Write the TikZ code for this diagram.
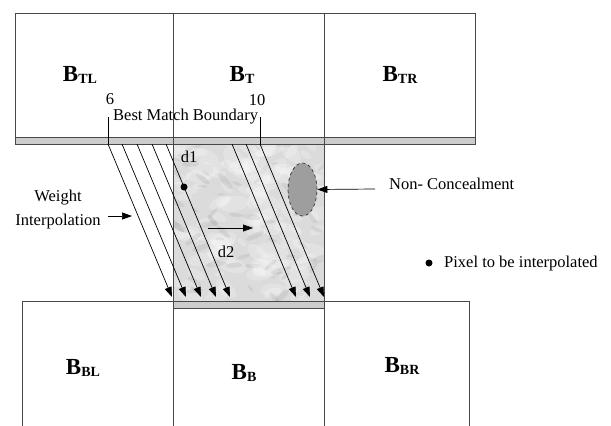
\documentclass[tikz,border=0pt]{standalone}
\usepackage{fontspec}
\setmainfont{Liberation Serif}
\usetikzlibrary{arrows.meta,shapes.geometric}
% subscript of a block name
\newcommand\blksub[1]{\raisebox{-2.5pt}{\fontsize{14}{14}\selectfont #1}}
\begin{document}
\begin{tikzpicture}[x=1pt,y=-1pt,
  boxline/.style={draw=black!72,line width=0.9pt},
  band/.style={fill=black!20,draw=black!72,line width=0.8pt},
  blabel/.style={font=\fontsize{23}{23}\selectfont\bfseries,inner sep=0},
  txt/.style={font=\fontsize{16.5}{24}\selectfont,inner sep=0},
  tip/.style={-{Triangle[length=10pt,width=7pt]}},
  ray/.style={draw=black,line width=0.7pt,tip},
  dotmark/.style={circle,fill=black,inner sep=0,minimum size=7pt},
]
\useasboundingbox (0,0) rectangle (611,426);
\fill[white] (0,0) rectangle (611,426);

% marbled concealed block
\begin{scope}
  \clip (173,144) rectangle (324,301);
  \fill[black!14] (173,144) rectangle (324,301);
  \pgfmathsetseed{11}
  \foreach \i in {1,...,120}{
    \pgfmathsetmacro\xx{173+151*rnd}
    \pgfmathsetmacro\yy{144+157*rnd}
    \pgfmathsetmacro\rr{5+12*rnd}
    \pgfmathsetmacro\aa{-50+100*rnd}
    \fill[white,opacity=0.22,rotate around={\aa:(\xx,\yy)}]
      (\xx,\yy) ellipse [x radius=\rr pt,y radius=0.5*\rr pt];
  }
  \foreach \i in {1,...,60}{
    \pgfmathsetmacro\xx{173+151*rnd}
    \pgfmathsetmacro\yy{144+157*rnd}
    \pgfmathsetmacro\rr{3+8*rnd}
    \pgfmathsetmacro\aa{-50+100*rnd}
    \fill[black,opacity=0.06,rotate around={\aa:(\xx,\yy)}]
      (\xx,\yy) ellipse [x radius=\rr pt,y radius=0.3*\rr pt];
  }
\end{scope}

% upper row of blocks and its boundary band
\draw[boxline] (15,137) -- (15,13) -- (475,13) -- (475,137);
\draw[band] (15,137) rectangle (475,144);
% lower row of blocks and its boundary band
\draw[band] (173,301) rectangle (324,308);
\draw[boxline] (22,426) -- (22,301) -- (173,301);
\draw[boxline] (324,301) -- (469,301) -- (469,426);
% column lines
\draw[boxline] (173,13) -- (173,426);
\draw[boxline] (324,13) -- (324,426);

% block names
\node[blabel] (btl) at (80,75) {B\blksub{TL}};
\node[blabel] (bt)  at (242,75) {B\blksub{T}};
\node[blabel] (btr) at (400,75) {B\blksub{TR}};
\node[blabel] (bbl) at (83,368) {B\blksub{BL}};
\node[blabel] (bb)  at (244,373) {B\blksub{B}};
\node[blabel] (bbr) at (402,366) {B\blksub{BR}};

% best match boundary marks
\node[txt] (six) at (110,99) {6};
\node[txt] (ten) at (257,100) {10};
\node[txt,anchor=west] (bmb) at (113,117) {Best Match Boundary};
\coordinate (tick6) at (108,117);
\coordinate (tick10) at (260,117);
\draw[line width=0.7pt] (tick6) -- (108,144);
\draw[line width=0.7pt] (tick10) -- (260,144);

% interpolation directions
\foreach \s [count=\k] in {108,122,137,152,166}{
  \coordinate (ra\k) at (\s,144);
  \coordinate (rb\k) at (\s+64,297);
  \draw[ray] (ra\k) -- (rb\k);
}
\foreach \s [count=\k] in {232,246,260}{
  \coordinate (sa\k) at (\s,144);
  \coordinate (sb\k) at (\s+64,297);
  \draw[ray] (sa\k) -- (sb\k);
}

% pixel and distances
\node[dotmark] (pix) at (184,187) {};
\node[txt] (d1) at (189,157) {d1};
\node[txt] (d2) at (226,252) {d2};
\coordinate (d2a) at (208,228);
\coordinate (d2b) at (253,228);
\draw[line width=0.45pt,tip] (d2a) -- (d2b);

% weight interpolation label
\node[txt,align=center] (wi) at (58,210) {Weight\\Interpolation};
\coordinate (wia) at (108,216);
\coordinate (wib) at (132,216);
\draw[line width=0.7pt,tip] (wia) -- (wib);

% non-concealed area
\node[ellipse,draw=black!80,dashed,fill=black!38,line width=0.7pt,
      minimum width=29pt,minimum height=53pt,inner sep=0] (nc) at (302.5,189.5) {};
\coordinate (nca) at (375,189);
\draw[line width=0.7pt,tip] (nca) -- (nc.east);
\node[txt,anchor=west] (nct) at (389,184) {Non- Concealment};

% legend
\node[dotmark] (legdot) at (429,263) {};
\node[txt,anchor=west] (legtxt) at (444,264) {Pixel to be interpolated};
\end{tikzpicture}
\end{document}
